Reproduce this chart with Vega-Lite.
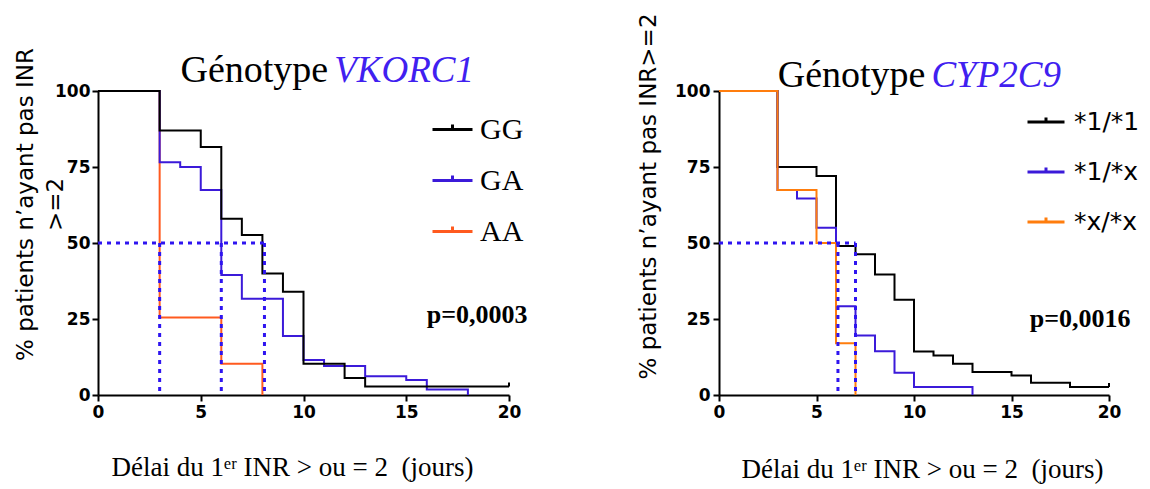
{
  "$schema": "https://vega.github.io/schema/vega-lite/v6.json",
  "background": "white",
  "autosize": {"type": "pad"},
  "padding": {"left": 13, "top": 12, "right": 5, "bottom": 5},
  "config": {
    "view": {"stroke": null},
    "axis": {"grid": false, "domainColor": "black", "domainWidth": 2, "tickColor": "black", "tickWidth": 2, "tickSize": 6,
      "labelFont": "DejaVu Sans", "labelFontWeight": "bold", "labelFontSize": 17, "labelColor": "black",
      "titleColor": "black", "titleFontWeight": "normal", "labelFlush": false}
  },
  "datasets": {
    "km": [
      {"p": "VKORC1", "g": "AA", "t": 0, "s": 100},
      {"p": "VKORC1", "g": "AA", "t": 3, "s": 25.5},
      {"p": "VKORC1", "g": "AA", "t": 6, "s": 10.3},
      {"p": "VKORC1", "g": "AA", "t": 8, "s": 0},
      {"p": "VKORC1", "g": "GA", "t": 0, "s": 100},
      {"p": "VKORC1", "g": "GA", "t": 3, "s": 76.6},
      {"p": "VKORC1", "g": "GA", "t": 4, "s": 75},
      {"p": "VKORC1", "g": "GA", "t": 5, "s": 67.4},
      {"p": "VKORC1", "g": "GA", "t": 6, "s": 39.5},
      {"p": "VKORC1", "g": "GA", "t": 7, "s": 31.7},
      {"p": "VKORC1", "g": "GA", "t": 9, "s": 19.4},
      {"p": "VKORC1", "g": "GA", "t": 10, "s": 11.5},
      {"p": "VKORC1", "g": "GA", "t": 11, "s": 9.5},
      {"p": "VKORC1", "g": "GA", "t": 13, "s": 6.2},
      {"p": "VKORC1", "g": "GA", "t": 15, "s": 4.9},
      {"p": "VKORC1", "g": "GA", "t": 16, "s": 1.8},
      {"p": "VKORC1", "g": "GA", "t": 18, "s": 0},
      {"p": "VKORC1", "g": "GG", "t": 0, "s": 100},
      {"p": "VKORC1", "g": "GG", "t": 3, "s": 87},
      {"p": "VKORC1", "g": "GG", "t": 5, "s": 81.6},
      {"p": "VKORC1", "g": "GG", "t": 6, "s": 58},
      {"p": "VKORC1", "g": "GG", "t": 7, "s": 52.6},
      {"p": "VKORC1", "g": "GG", "t": 8, "s": 40},
      {"p": "VKORC1", "g": "GG", "t": 9, "s": 34},
      {"p": "VKORC1", "g": "GG", "t": 10, "s": 10.3},
      {"p": "VKORC1", "g": "GG", "t": 12, "s": 5.6},
      {"p": "VKORC1", "g": "GG", "t": 13, "s": 2.8},
      {"p": "VKORC1", "g": "GG", "t": 20, "s": 2.8},
      {"p": "CYP2C9", "g": "*1/*1", "t": 0, "s": 100},
      {"p": "CYP2C9", "g": "*1/*1", "t": 3, "s": 75},
      {"p": "CYP2C9", "g": "*1/*1", "t": 5, "s": 72},
      {"p": "CYP2C9", "g": "*1/*1", "t": 6, "s": 49},
      {"p": "CYP2C9", "g": "*1/*1", "t": 7, "s": 46.3},
      {"p": "CYP2C9", "g": "*1/*1", "t": 8, "s": 39.6},
      {"p": "CYP2C9", "g": "*1/*1", "t": 9, "s": 31.3},
      {"p": "CYP2C9", "g": "*1/*1", "t": 10, "s": 14.3},
      {"p": "CYP2C9", "g": "*1/*1", "t": 11, "s": 13},
      {"p": "CYP2C9", "g": "*1/*1", "t": 12, "s": 10.3},
      {"p": "CYP2C9", "g": "*1/*1", "t": 13, "s": 7.6},
      {"p": "CYP2C9", "g": "*1/*1", "t": 15, "s": 6.4},
      {"p": "CYP2C9", "g": "*1/*1", "t": 16, "s": 4},
      {"p": "CYP2C9", "g": "*1/*1", "t": 18, "s": 2.6},
      {"p": "CYP2C9", "g": "*1/*1", "t": 20, "s": 2.6},
      {"p": "CYP2C9", "g": "*1/*x", "t": 0, "s": 100},
      {"p": "CYP2C9", "g": "*1/*x", "t": 3, "s": 67.4},
      {"p": "CYP2C9", "g": "*1/*x", "t": 4, "s": 64.6},
      {"p": "CYP2C9", "g": "*1/*x", "t": 5, "s": 55},
      {"p": "CYP2C9", "g": "*1/*x", "t": 6, "s": 29.2},
      {"p": "CYP2C9", "g": "*1/*x", "t": 7, "s": 19.6},
      {"p": "CYP2C9", "g": "*1/*x", "t": 8, "s": 14.4},
      {"p": "CYP2C9", "g": "*1/*x", "t": 9, "s": 7.3},
      {"p": "CYP2C9", "g": "*1/*x", "t": 10, "s": 2.6},
      {"p": "CYP2C9", "g": "*1/*x", "t": 13, "s": 0},
      {"p": "CYP2C9", "g": "*x/*x", "t": 0, "s": 100},
      {"p": "CYP2C9", "g": "*x/*x", "t": 3, "s": 67.4},
      {"p": "CYP2C9", "g": "*x/*x", "t": 5, "s": 50},
      {"p": "CYP2C9", "g": "*x/*x", "t": 6, "s": 17},
      {"p": "CYP2C9", "g": "*x/*x", "t": 7, "s": 0}
    ],
    "med": [
      {"p": "VKORC1", "x": 0, "x2": 8.1, "y": 50, "y2": 50},
      {"p": "VKORC1", "x": 3, "x2": 3, "y": 50, "y2": 0},
      {"p": "VKORC1", "x": 6, "x2": 6, "y": 50, "y2": 0},
      {"p": "VKORC1", "x": 8.1, "x2": 8.1, "y": 50, "y2": 0},
      {"p": "CYP2C9", "x": 0, "x2": 7, "y": 50, "y2": 50},
      {"p": "CYP2C9", "x": 6.1, "x2": 6.1, "y": 50, "y2": 0},
      {"p": "CYP2C9", "x": 7, "x2": 7, "y": 50, "y2": 0}
    ],
    "cens": [
      {"p": "VKORC1", "t": 20, "s": 2.8},
      {"p": "CYP2C9", "t": 20, "s": 2.6}
    ]
  },
  "spacing": 210,
  "bounds": "flush",
  "resolve": {"scale": {"color": "independent"}, "legend": {"color": "independent"}},
  "hconcat": [
    {
      "width": 411,
      "height": 304,
      "layer": [
        {
          "data": {"name": "km"},
          "transform": [{"filter": "datum.p === 'VKORC1'"}],
          "mark": {"type": "line", "interpolate": "step-after", "strokeWidth": 2},
          "encoding": {
            "x": {"field": "t", "type": "quantitative", "scale": {"domain": [0, 20], "nice": false},
              "axis": {"values": [0, 5, 10, 15, 20], "title": "Délai du 1ᵉʳ INR > ou = 2\u00a0 (jours)", "titleFont": "Liberation Serif", "titleFontSize": 27,
                "titleX": 194, "titleY": 72, "titleBaseline": "middle", "labelPadding": 3}},
            "y": {"field": "s", "type": "quantitative", "scale": {"domain": [0, 100], "nice": false},
              "axis": {"values": [0, 25, 50, 75, 100], "title": ["% patients n’ayant pas INR", ">=2"], "titleFont": "DejaVu Sans", "titleFontSize": 23,
                "titleX": -84, "titleY": 113, "titleAngle": -90, "titleBaseline": "top", "titleLineHeight": 30, "labelPadding": 2}},
            "color": {"field": "g", "type": "nominal",
              "scale": {"domain": ["GG", "GA", "AA"], "range": ["#000000", "#3b1ad9", "#ff5a1f"]},
              "legend": {"title": null, "orient": "none", "legendX": 333, "legendY": 17, "symbolType": "M-1,0L1,0M0,0L0,-0.25",
                "symbolSize": 1600, "symbolStrokeWidth": 3, "labelFont": "Liberation Serif", "labelFontSize": 30, "labelColor": "black",
                "rowPadding": 14, "labelOffset": 6, "labelLimit": 300}}
          }
        },
        {
          "data": {"name": "med"},
          "transform": [{"filter": "datum.p === 'VKORC1'"}],
          "mark": {"type": "rule", "color": "#2e14f0", "strokeWidth": 3, "strokeDash": [4, 5]},
          "encoding": {
            "x": {"field": "x", "type": "quantitative"}, "x2": {"field": "x2"},
            "y": {"field": "y", "type": "quantitative"}, "y2": {"field": "y2"}
          }
        },
        {
          "data": {"name": "cens"},
          "transform": [{"filter": "datum.p === 'VKORC1'"}],
          "mark": {"type": "point", "shape": "M0,0L0,-1", "size": 64, "strokeWidth": 2, "color": "black", "filled": false, "opacity": 1},
          "encoding": {"x": {"field": "t", "type": "quantitative"}, "y": {"field": "s", "type": "quantitative"}}
        },
        {
          "data": {"values": [{}]},
          "mark": {"type": "text", "text": "Génotype", "font": "Liberation Serif", "fontSize": 38, "align": "right", "baseline": "alphabetic", "dx": -3, "color": "black"},
          "encoding": {"x": {"datum": 11.35, "type": "quantitative"}, "y": {"datum": 103, "type": "quantitative"}}
        },
        {
          "data": {"values": [{}]},
          "mark": {"type": "text", "text": "VKORC1", "font": "Liberation Serif", "fontStyle": "italic", "fontSize": 37, "align": "left", "baseline": "alphabetic", "dx": 3, "color": "#4020f0"},
          "encoding": {"x": {"datum": 11.35, "type": "quantitative"}, "y": {"datum": 103, "type": "quantitative"}}
        },
        {
          "data": {"values": [{}]},
          "mark": {"type": "text", "text": "p=0,0003", "font": "Liberation Serif", "fontWeight": "bold", "fontSize": 26, "align": "right", "baseline": "middle", "color": "black"},
          "encoding": {"x": {"datum": 20.9, "type": "quantitative"}, "y": {"datum": 26.3, "type": "quantitative"}}
        }
      ]
    },
    {
      "width": 390,
      "height": 304,
      "layer": [
        {
          "data": {"name": "km"},
          "transform": [{"filter": "datum.p === 'CYP2C9'"}],
          "mark": {"type": "line", "interpolate": "step-after", "strokeWidth": 2},
          "encoding": {
            "x": {"field": "t", "type": "quantitative", "scale": {"domain": [0, 20], "nice": false},
              "axis": {"values": [0, 5, 10, 15, 20], "title": "Délai du 1ᵉʳ INR > ou = 2\u00a0 (jours)", "titleFont": "Liberation Serif", "titleFontSize": 27,
                "titleX": 203, "titleY": 74, "titleBaseline": "middle", "labelPadding": 3}},
            "y": {"field": "s", "type": "quantitative", "scale": {"domain": [0, 100], "nice": false},
              "axis": {"values": [0, 25, 50, 75, 100], "title": "% patients n’ayant pas INR>=2", "titleFont": "DejaVu Sans", "titleFontSize": 23,
                "titleX": -82, "titleY": 105, "titleAngle": -90, "titleBaseline": "top", "labelPadding": 3}},
            "color": {"field": "g", "type": "nominal",
              "scale": {"domain": ["*1/*1", "*1/*x", "*x/*x"], "range": ["#000000", "#3b1ad9", "#ff7d0d"]},
              "legend": {"title": null, "orient": "none", "legendX": 307, "legendY": 11, "symbolType": "M-1,0L1,0M0,0L0,-0.25",
                "symbolSize": 1369, "symbolStrokeWidth": 3, "labelFont": "DejaVu Sans", "labelFontSize": 25, "labelColor": "black",
                "rowPadding": 17, "labelOffset": 8, "labelLimit": 300}}
          }
        },
        {
          "data": {"name": "med"},
          "transform": [{"filter": "datum.p === 'CYP2C9'"}],
          "mark": {"type": "rule", "color": "#2e14f0", "strokeWidth": 3, "strokeDash": [4, 5]},
          "encoding": {
            "x": {"field": "x", "type": "quantitative"}, "x2": {"field": "x2"},
            "y": {"field": "y", "type": "quantitative"}, "y2": {"field": "y2"}
          }
        },
        {
          "data": {"name": "cens"},
          "transform": [{"filter": "datum.p === 'CYP2C9'"}],
          "mark": {"type": "point", "shape": "M0,0L0,-1", "size": 64, "strokeWidth": 2, "color": "black", "filled": false, "opacity": 1},
          "encoding": {"x": {"field": "t", "type": "quantitative"}, "y": {"field": "s", "type": "quantitative"}}
        },
        {
          "data": {"values": [{}]},
          "mark": {"type": "text", "text": "Génotype", "font": "Liberation Serif", "fontSize": 38, "align": "right", "baseline": "alphabetic", "dx": -3, "color": "black"},
          "encoding": {"x": {"datum": 10.74, "type": "quantitative"}, "y": {"datum": 101.3, "type": "quantitative"}}
        },
        {
          "data": {"values": [{}]},
          "mark": {"type": "text", "text": "CYP2C9", "font": "Liberation Serif", "fontStyle": "italic", "fontSize": 37, "align": "left", "baseline": "alphabetic", "dx": 3, "color": "#4020f0"},
          "encoding": {"x": {"datum": 10.74, "type": "quantitative"}, "y": {"datum": 101.3, "type": "quantitative"}}
        },
        {
          "data": {"values": [{}]},
          "mark": {"type": "text", "text": "p=0,0016", "font": "Liberation Serif", "fontWeight": "bold", "fontSize": 26, "align": "right", "baseline": "middle", "color": "black"},
          "encoding": {"x": {"datum": 21.1, "type": "quantitative"}, "y": {"datum": 25, "type": "quantitative"}}
        }
      ]
    }
  ]
}
